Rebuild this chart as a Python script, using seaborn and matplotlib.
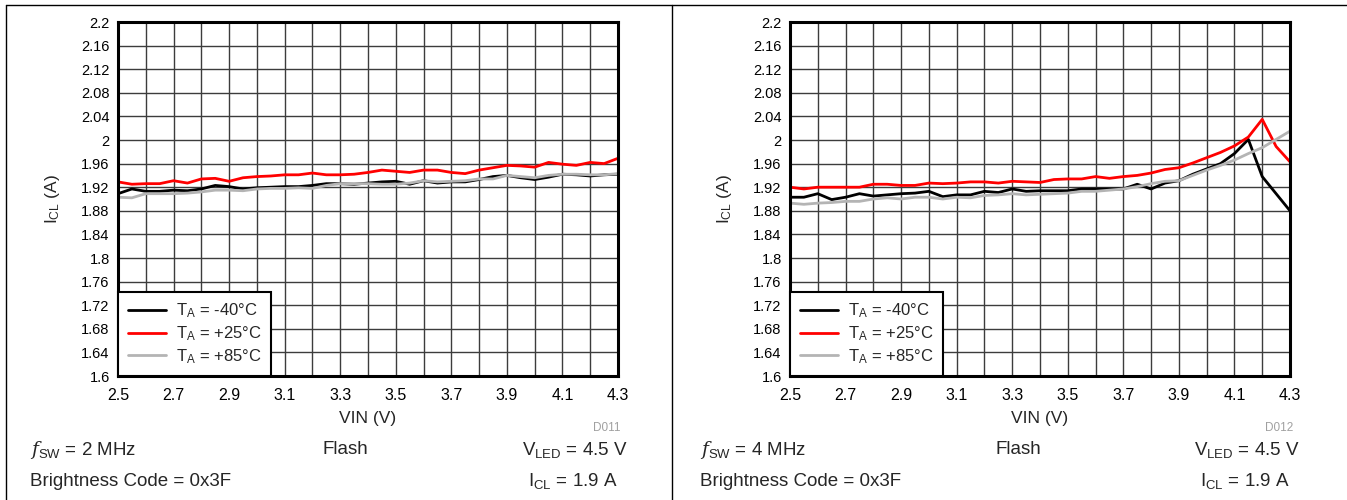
import matplotlib
matplotlib.use("Agg")
import matplotlib.pyplot as plt
from matplotlib.lines import Line2D
import seaborn as sns
import pandas as pd

# data (VIN steps of 0.05 V)
vin = [2.50, 2.55, 2.60, 2.65, 2.70, 2.75, 2.80, 2.85, 2.90, 2.95,
       3.00, 3.05, 3.10, 3.15, 3.20, 3.25, 3.30, 3.35, 3.40, 3.45,
       3.50, 3.55, 3.60, 3.65, 3.70, 3.75, 3.80, 3.85, 3.90, 3.95,
       4.00, 4.05, 4.10, 4.15, 4.20, 4.25, 4.30]

# 2 MHz panel
icl_2m_m40 = [1.909, 1.917, 1.913, 1.913, 1.915, 1.914, 1.917, 1.923, 1.921, 1.917,
              1.919, 1.920, 1.921, 1.921, 1.923, 1.926, 1.926, 1.925, 1.927, 1.929,
              1.930, 1.925, 1.931, 1.927, 1.929, 1.929, 1.933, 1.938, 1.940, 1.936,
              1.933, 1.937, 1.942, 1.941, 1.939, 1.941, 1.942]
icl_2m_p25 = [1.929, 1.925, 1.926, 1.926, 1.931, 1.927, 1.934, 1.935, 1.930, 1.936,
              1.938, 1.939, 1.941, 1.941, 1.944, 1.941, 1.941, 1.942, 1.945, 1.949,
              1.947, 1.945, 1.949, 1.949, 1.945, 1.943, 1.949, 1.953, 1.957, 1.956,
              1.954, 1.962, 1.959, 1.957, 1.962, 1.960, 1.969]
icl_2m_p85 = [1.903, 1.902, 1.909, 1.909, 1.909, 1.910, 1.912, 1.915, 1.915, 1.914,
              1.917, 1.918, 1.918, 1.919, 1.918, 1.923, 1.926, 1.926, 1.926, 1.925,
              1.925, 1.927, 1.931, 1.929, 1.930, 1.931, 1.934, 1.934, 1.940, 1.938,
              1.936, 1.940, 1.942, 1.942, 1.941, 1.941, 1.943]

# 4 MHz panel
icl_4m_m40 = [1.903, 1.903, 1.909, 1.899, 1.903, 1.909, 1.905, 1.907, 1.909, 1.910,
              1.913, 1.904, 1.907, 1.907, 1.913, 1.911, 1.917, 1.913, 1.914, 1.914,
              1.914, 1.917, 1.917, 1.917, 1.917, 1.925, 1.917, 1.927, 1.931, 1.942,
              1.951, 1.960, 1.977, 2.001, 1.938, 1.909, 1.880]
icl_4m_p25 = [1.920, 1.917, 1.920, 1.920, 1.920, 1.920, 1.925, 1.925, 1.923, 1.923,
              1.927, 1.926, 1.927, 1.929, 1.929, 1.927, 1.930, 1.929, 1.928, 1.933,
              1.934, 1.934, 1.938, 1.935, 1.938, 1.940, 1.944, 1.950, 1.953, 1.961,
              1.970, 1.979, 1.990, 2.005, 2.035, 1.989, 1.963]
icl_4m_p85 = [1.893, 1.891, 1.893, 1.894, 1.896, 1.896, 1.900, 1.902, 1.900, 1.903,
              1.903, 1.900, 1.903, 1.902, 1.906, 1.907, 1.909, 1.907, 1.908, 1.909,
              1.910, 1.913, 1.913, 1.915, 1.917, 1.921, 1.926, 1.930, 1.931, 1.940,
              1.949, 1.957, 1.966, 1.977, 1.987, 2.001, 2.015]

temp_labels = [r"T$_\mathrm{A}$ = -40°C", r"T$_\mathrm{A}$ = +25°C", r"T$_\mathrm{A}$ = +85°C"]
line_colors = ["#000000", "#ff0000", "#b4b4b4"]

x_ticks = [2.5, 2.7, 2.9, 3.1, 3.3, 3.5, 3.7, 3.9, 4.1, 4.3]
x_minor = [2.6, 2.8, 3.0, 3.2, 3.4, 3.6, 3.8, 4.0, 4.2]
y_ticks = [1.6, 1.64, 1.68, 1.72, 1.76, 1.8, 1.84, 1.88, 1.92, 1.96,
           2.0, 2.04, 2.08, 2.12, 2.16, 2.2]
y_ticklabels = ["1.6", "1.64", "1.68", "1.72", "1.76", "1.8", "1.84", "1.88", "1.92",
                "1.96", "2", "2.04", "2.08", "2.12", "2.16", "2.2"]

panels = [
    {"series": [icl_2m_m40, icl_2m_p25, icl_2m_p85], "fsw": "2 MHz", "code": "D011"},
    {"series": [icl_4m_m40, icl_4m_p25, icl_4m_p85], "fsw": "4 MHz", "code": "D012"},
]

sns.set_style("white")
plt.rcParams["font.family"] = ["Liberation Sans", "DejaVu Sans"]
plt.rcParams["mathtext.fontset"] = "custom"
plt.rcParams["mathtext.rm"] = "Liberation Sans"
plt.rcParams["mathtext.it"] = "DejaVu Serif:italic"

W, H = 1347, 500
fig = plt.figure(figsize=(W / 100, H / 100), dpi=100)

# table-like frame around the two cells
fig.add_artist(Line2D([6 / W, 1], [1 - 5 / H, 1 - 5 / H], color="black", lw=1))
fig.add_artist(Line2D([6 / W, 6 / W], [0, 1 - 5 / H], color="black", lw=1))
fig.add_artist(Line2D([672 / W, 672 / W], [0, 1 - 5 / H], color="black", lw=1))

ax_lefts = [118, 790]
text_left = [30, 700]
flash_x = [345, 1018]
vled_right = [628, 1300]
icl_right = [618, 1290]

for i, p in enumerate(panels):
    ax = fig.add_axes([ax_lefts[i] / W, (H - 376) / H, 500 / W, 354 / H])
    df = pd.concat([
        pd.DataFrame({"VIN": vin, "ICL": vals, "T": lab})
        for vals, lab in zip(p["series"], temp_labels)
    ])
    sns.lineplot(data=df, x="VIN", y="ICL", hue="T", hue_order=temp_labels,
                 palette=line_colors, linewidth=2, ax=ax, zorder=3)

    ax.set_xlim(2.5, 4.3)
    ax.set_ylim(1.6, 2.2)
    ax.set_xticks(x_ticks)
    ax.set_xticklabels([f"{v:g}" for v in x_ticks])
    ax.set_xticks(x_minor, minor=True)
    ax.set_yticks(y_ticks)
    ax.set_yticklabels(y_ticklabels)
    ax.tick_params(which="both", length=0, colors="black")
    ax.tick_params(axis="x", labelsize=11.5, pad=9)
    ax.tick_params(axis="y", labelsize=10.5, pad=6)
    ax.grid(True, which="both", color="#3c3c3c", linewidth=1.0)
    for sp in ax.spines.values():
        sp.set_linewidth(2.2)
        sp.set_color("black")
        sp.set_zorder(4)
    ax.set_xlabel("")
    ax.set_ylabel("")

    ax.text(-66 / 500, 0.5, r"I$_\mathrm{CL}$ (A)", transform=ax.transAxes,
            rotation=90, ha="center", va="center", fontsize=12.5)
    ax.text(0.5, -42 / 354, "VIN (V)", transform=ax.transAxes,
            ha="center", va="center", fontsize=12.5)
    ax.text(1.006, -52 / 354, p["code"], transform=ax.transAxes,
            ha="right", va="center", fontsize=8.5, color="#a0a0a0")

    sns.move_legend(ax, "lower left", title=None, borderaxespad=0, frameon=True,
                    fancybox=False, fontsize=12, handlelength=2.3,
                    labelspacing=0.25, borderpad=0.6, handletextpad=0.55)
    leg = ax.get_legend()
    leg.get_frame().set_edgecolor("black")
    leg.get_frame().set_linewidth(1.5)
    leg.get_frame().set_alpha(1)
    leg.set_zorder(5)
    for ln in leg.get_lines():
        ln.set_linewidth(2)

    # conditions under the plot
    fig.text(text_left[i] / W, 1 - 450 / H, r"$\mathit{f}_\mathrm{SW}$ = " + p["fsw"],
             ha="left", va="center", fontsize=13.5)
    fig.text(flash_x[i] / W, 1 - 450 / H, "Flash", ha="center", va="center", fontsize=13.5)
    fig.text(vled_right[i] / W, 1 - 450 / H, r"V$_\mathrm{LED}$ = 4.5 V",
             ha="right", va="center", fontsize=13.5)
    fig.text(text_left[i] / W, 1 - 481 / H, "Brightness Code = 0x3F",
             ha="left", va="center", fontsize=13.5)
    fig.text(icl_right[i] / W, 1 - 481 / H, r"I$_\mathrm{CL}$ = 1.9 A",
             ha="right", va="center", fontsize=13.5)

fig.savefig("out.png", dpi=100)
